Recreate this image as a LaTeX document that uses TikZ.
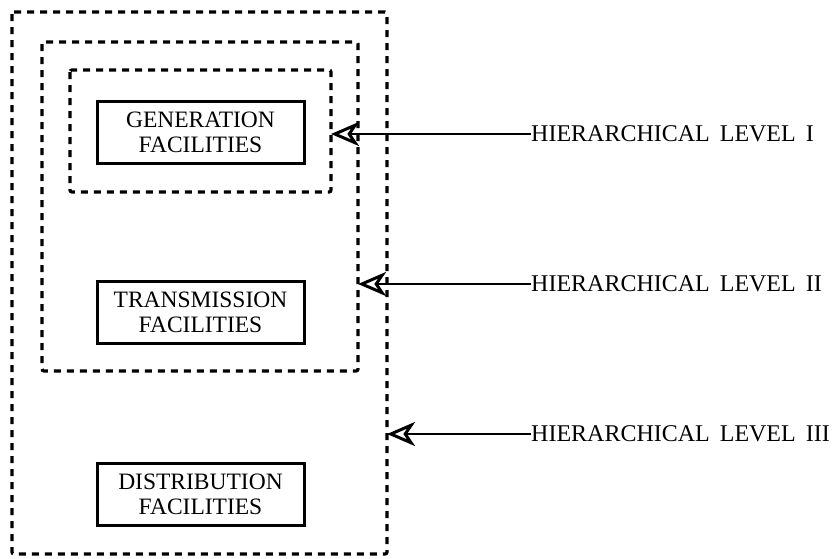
\documentclass[tikz,border=0pt]{standalone}
\usepackage{fontspec}
\setmainfont{Liberation Serif}
\usetikzlibrary{arrows.meta}
\begin{document}
\begin{tikzpicture}[x=1pt,y=-1pt,
  level/.style={draw, line width=3.2pt, dash pattern=on 7pt off 6pt, rounded corners=2pt},
  facility/.style={draw, line width=3pt, minimum width=207pt, minimum height=62pt,
    inner sep=0pt, align=center, font=\fontsize{23.5}{25}\selectfont},
  label/.style={anchor=west, inner sep=0pt, font=\fontsize{24}{26}\selectfont},
  pointer/.style={line width=2.6pt, -{Stealth[open, length=28pt, width=24pt, inset=8pt, line width=3pt]}}]
  \useasboundingbox (0,0) rectangle (836,558);

  % nested hierarchical levels
  \draw[level] (12,12) rectangle (387,554);
  \draw[level] (42,42) rectangle (358,371);
  \draw[level] (70,70) rectangle (331,192);

  % facility blocks
  \node[facility] (gen) at (200.5,132) {GENERATION\\FACILITIES};
  \node[facility] (tra) at (200.5,312) {TRANSMISSION\\FACILITIES};
  \node[facility] (dis) at (200.5,494) {DISTRIBUTION\\FACILITIES};

  % level labels
  \node[label] (l1) at (531,134) {HIERARCHICAL\ \,LEVEL\ \,I};
  \node[label] (l2) at (531,284) {HIERARCHICAL\ \,LEVEL\ \,II};
  \node[label] (l3) at (531,434) {HIERARCHICAL\ \,LEVEL\ \,III};

  \coordinate (t1) at (331,134);
  \coordinate (t2) at (358,284);
  \coordinate (t3) at (387,434);

  \draw[pointer] (l1.west) -- (t1);
  \draw[pointer] (l2.west) -- (t2);
  \draw[pointer] (l3.west) -- (t3);
\end{tikzpicture}
\end{document}
